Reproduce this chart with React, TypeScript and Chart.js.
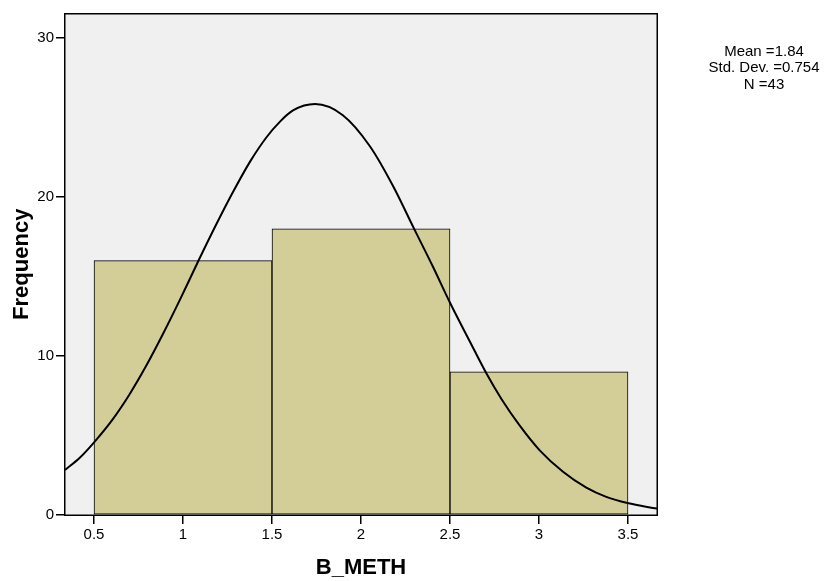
import React, { useEffect, useRef } from 'react';
import { Chart, registerables } from 'chart.js';

Chart.register(...registerables);

// Histogram bins (centre of each bin) and their counts
const binCenters = [1, 2, 3];
const frequencies = [16, 18, 9];

// Fitted normal curve, sampled along the axis
const curveX = [
  0.337, 0.42, 0.504, 0.607, 0.7, 0.794, 0.888, 0.981, 1.084, 1.19, 1.28, 1.375, 1.468,
  1.545, 1.618, 1.742, 1.898, 2.05, 2.18, 2.3, 2.405, 2.498, 2.61, 2.705,
  2.789, 2.892, 3.004, 3.135, 3.266, 3.378, 3.497, 3.663,
];
const curveY = [
  2.83, 3.6, 4.62, 6.05, 7.6, 9.4, 11.4, 13.5, 15.93, 18.35, 20.3, 22.2, 23.75,
  24.75, 25.45, 25.85, 25.15, 23.2, 20.7, 17.97, 15.6, 13.4, 10.95, 8.9,
  7.3, 5.62, 4.07, 2.72, 1.72, 1.14, 0.75, 0.4,
];

// Axis ticks and labels
const xTickValues = [0.5, 1, 1.5, 2, 2.5, 3, 3.5];
const yTickValues = [0, 10, 20, 30];
const xRange = [0.337, 3.663];
const yRange = [0, 31.55];
const xTitle = 'B_METH';
const yTitle = 'Frequency';
const statsLines = ['Mean =1.84', 'Std. Dev. =0.754', 'N =43'];

const FONT = '"Liberation Sans", Arial, Helvetica, sans-serif';

// Grey plot background, black frame and the summary block on the right
const plotFramePlugin = {
  id: 'plotFrame',
  beforeDatasetsDraw(chart: any) {
    const { ctx, chartArea } = chart;
    ctx.save();
    ctx.fillStyle = '#f0f0f0';
    ctx.fillRect(chartArea.left, chartArea.top, chartArea.right - chartArea.left, chartArea.bottom - chartArea.top);
    ctx.restore();
  },
  afterDatasetsDraw(chart: any) {
    const { ctx, chartArea } = chart;
    ctx.save();
    ctx.strokeStyle = '#000';
    ctx.lineWidth = 1.5;
    const l = Math.round(chartArea.left) - 0.25;
    const t = Math.round(chartArea.top) - 0.25;
    const r = Math.round(chartArea.right) + 0.25;
    const b = Math.round(chartArea.bottom) + 0.25;
    ctx.strokeRect(l, t, r - l, b - t);
    ctx.restore();
  },
  afterDraw(chart: any) {
    const { ctx, chartArea } = chart;
    ctx.save();
    ctx.fillStyle = '#000';
    ctx.font = `15px ${FONT}`;
    ctx.textAlign = 'center';
    ctx.textBaseline = 'middle';
    const cx = (chartArea.right + chart.width) / 2 + 23;
    statsLines.forEach((line, i) => {
      ctx.fillText(line, cx, chartArea.top + 38 + i * 16.5);
    });
    ctx.restore();
  },
};

export default function App() {
  const canvasRef = useRef<HTMLCanvasElement | null>(null);

  useEffect(() => {
    const canvas = canvasRef.current;
    if (!canvas) return;
    Chart.defaults.color = '#000';
    Chart.defaults.font.family = FONT;

    const chart = new Chart(canvas, {
      type: 'bar',
      data: {
        datasets: [
          {
            type: 'line',
            label: 'Normal',
            data: curveX.map((x, i) => ({ x, y: curveY[i] })),
            xAxisID: 'x',
            yAxisID: 'y',
            borderColor: '#000',
            borderWidth: 2,
            pointRadius: 0,
            fill: false,
            cubicInterpolationMode: 'monotone',
            order: 0,
          } as any,
          {
            type: 'bar',
            label: yTitle,
            data: binCenters.map((x, i) => ({ x, y: frequencies[i] })),
            xAxisID: 'xBin',
            yAxisID: 'y',
            backgroundColor: '#d3ce98',
            borderColor: '#000',
            borderWidth: 1,
            borderSkipped: false,
            grouped: false,
            barPercentage: 1,
            categoryPercentage: 1,
            order: 1,
          } as any,
        ],
      },
      options: {
        responsive: false,
        animation: false,
        events: [],
        layout: { padding: { top: 13.5, right: 168, bottom: 0, left: 0 } },
        plugins: {
          legend: { display: false },
          tooltip: { enabled: false },
        },
        scales: {
          x: {
            type: 'linear',
            position: 'bottom',
            offset: false,
            min: xRange[0],
            max: xRange[1],
            afterBuildTicks: (axis: any) => {
              axis.ticks = xTickValues.map((value) => ({ value }));
            },
            afterFit: (axis: any) => {
              axis.height = 66;
            },
            ticks: {
              callback: (v: any) => String(v),
              font: { size: 15 },
              color: '#000',
              padding: 2,
              maxRotation: 0,
              autoSkip: false,
            },
            grid: {
              offset: false,
              drawOnChartArea: false,
              drawTicks: true,
              tickLength: 9,
              color: '#000',
              lineWidth: 1.5,
            },
            border: { display: false },
            title: {
              display: true,
              text: xTitle,
              font: { size: 22, weight: 'bold' },
              color: '#000',
              padding: { top: 0, bottom: 0 },
            },
          },
          xBin: {
            type: 'linear',
            display: false,
            offset: false,
            grid: { offset: false },
            min: xRange[0],
            max: xRange[1],
            afterBuildTicks: (axis: any) => {
              axis.ticks = binCenters.map((value) => ({ value }));
            },
          },
          y: {
            type: 'linear',
            min: yRange[0],
            max: yRange[1],
            afterBuildTicks: (axis: any) => {
              axis.ticks = yTickValues.map((value) => ({ value }));
            },
            afterFit: (axis: any) => {
              axis.width = 65;
            },
            ticks: {
              callback: (v: any) => String(v),
              font: { size: 15 },
              color: '#000',
              padding: 2,
              autoSkip: false,
            },
            grid: {
              drawOnChartArea: false,
              drawTicks: true,
              tickLength: 9,
              color: '#000',
              lineWidth: 1.5,
            },
            border: { display: false },
            title: {
              display: true,
              text: yTitle,
              font: { size: 22, weight: 'bold' },
              color: '#000',
              padding: { top: 9, bottom: 0 },
            },
          },
        },
      } as any,
      plugins: [plotFramePlugin],
    });

    return () => {
      chart.destroy();
    };
  }, []);

  return (
    <div style={{ position: 'fixed', left: 0, top: 0, width: 825, height: 581, background: '#fff' }}>
      <canvas ref={canvasRef} width={825} height={581} style={{ display: 'block' }} />
    </div>
  );
}
